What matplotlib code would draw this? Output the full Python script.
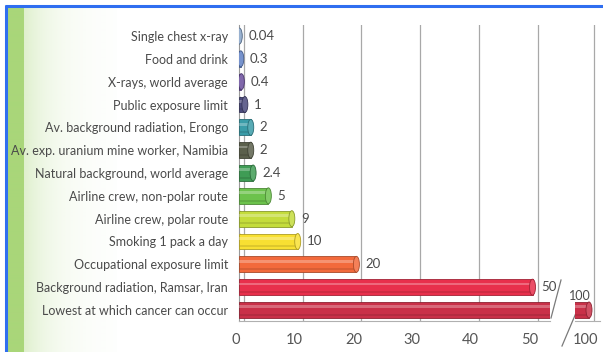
import numpy as np
import matplotlib.pyplot as plt
import matplotlib.transforms as mtransforms
from matplotlib.patches import Ellipse
from matplotlib.colors import to_rgb

plt.rcParams['font.family'] = ['Lato', 'DejaVu Sans']

# radiation doses (mSv per year)
labels = [
    "Single chest x-ray",
    "Food and drink",
    "X-rays, world average",
    "Public exposure limit",
    "Av. background radiation, Erongo",
    "Av. exp. uranium mine worker, Namibia",
    "Natural background, world average",
    "Airline crew, non-polar route",
    "Airline crew, polar route",
    "Smoking 1 pack a day",
    "Occupational exposure limit",
    "Background radiation, Ramsar, Iran",
    "Lowest at which cancer can occur",
]
values = [0.04, 0.3, 0.4, 1, 2, 2, 2.4, 5, 9, 10, 20, 50, 100]
value_text = ["0.04", "0.3", "0.4", "1", "2", "2", "2.4", "5", "9", "10", "20", "50", "100"]
bar_colors = ["#86a3c8", "#5f80c4", "#6a4d9c", "#4b4a7c", "#3a9ca8", "#5b604c",
              "#3f9c55", "#6cc24c", "#c4dc3c", "#f8e032", "#f26a3c", "#e8304c", "#c93048"]
main_ticks = [0, 10, 20, 30, 40, 50]
break_ticks = [100]

W, H = 603, 352
PPU = 5.87      # pixels per data unit on both value axes
TEXT = "#4a4a4a"


def px_rect(x0, y0, x1, y1):
    return [x0 / W, 1 - y1 / H, (x1 - x0) / W, (y1 - y0) / H]


def shade(c, f):
    r, g, b = to_rgb(c)
    if f < 1:
        return (r * f, g * f, b * f)
    return tuple(v + (1 - v) * (f - 1) for v in (r, g, b))


fig = plt.figure(figsize=(W / 100, H / 100), dpi=100)
fig.patch.set_facecolor("white")

# page decoration: green margin stripe and blue frame
bg = fig.add_axes([0, 0, 1, 1])
bg.set_axis_off()
bg.set_xlim(0, W)
bg.set_ylim(H, 0)
xs = np.arange(0, 110)
alpha = np.where(xs < 17, 0.8, 0.3 * np.exp(-(xs - 17) / 30.0))
stripe = np.zeros((2, len(xs), 4))
stripe[..., :3] = to_rgb("#94cc58")
stripe[..., 3] = alpha
bg.imshow(stripe, extent=(7, 117, H, 7), aspect="auto", interpolation="bilinear")
bg.plot([5, W], [6, 6], color="#2f6ef0", lw=2.2, solid_capstyle="butt")
bg.plot([6, 6], [5, H], color="#2f6ef0", lw=2.2, solid_capstyle="butt")
# axis break marks
bg.plot([551, 561], [318, 280], color="#7a7a7a", lw=0.9)
bg.plot([562, 576], [346, 313], color="#7a7a7a", lw=0.9)

ax = fig.add_axes(px_rect(239, 24.6, 550, 321.4))
ax2 = fig.add_axes(px_rect(575, 24.6, 600, 321.4))
ax.set_xlim(0, (550 - 239) / PPU)
ax2.set_xlim(100 - (589 - 575) / PPU, 100 + (600 - 589) / PPU)

y = np.arange(len(labels))
bar_h = 0.7
cap_w = 6.0 / PPU


def cylinder(a, yy, v, c):
    dark = shade(c, 0.7)
    a.add_patch(Ellipse((0, yy), cap_w, bar_h, facecolor=c, edgecolor=dark, lw=0.6, zorder=2))
    a.barh(yy, v, height=bar_h, color=c, edgecolor=dark, linewidth=0.6, zorder=3)
    a.barh(yy - bar_h * 0.2, v, height=bar_h * 0.18, color="white", alpha=0.28, lw=0, zorder=4)
    a.barh(yy + bar_h * 0.3, v, height=bar_h * 0.12, color=dark, alpha=0.35, lw=0, zorder=4)
    a.add_patch(Ellipse((v, yy), cap_w, bar_h, facecolor=shade(c, 1.15), edgecolor=dark,
                        lw=0.6, zorder=5))


for yy, v, c, t in zip(y, values, bar_colors, value_text):
    cylinder(ax, yy, v, c)
    cylinder(ax2, yy, v, c)
    if v <= ax.get_xlim()[1]:
        ax.annotate(t, (v, yy), xytext=(9, 0), textcoords="offset pixels",
                    ha="left", va="center", fontsize=9.5, color=TEXT)
    if v >= ax2.get_xlim()[0]:
        ax2.annotate(t, (v, yy), xytext=(-9, 14), textcoords="offset pixels",
                     ha="center", va="center", fontsize=9, color=TEXT, annotation_clip=False)

for a in (ax, ax2):
    a.set_ylim(len(labels) - 0.5, -0.5)
    a.set_facecolor("none")
    a.spines[["top", "right"]].set_visible(False)
    a.spines["bottom"].set_color("#b0b0b0")
    a.spines["left"].set_color("#999999")
    a.tick_params(axis="x", length=0, pad=8, labelsize=10.5, labelcolor="#555555")
    a.grid(axis="x", color="#a8a8a8", lw=0.9)
    a.set_axisbelow(True)

ax.set_xticks(main_ticks)
ax.set_yticks(y, labels)
ax.tick_params(axis="y", length=0, pad=8, labelsize=9.0, labelcolor=TEXT)
ax2.set_xticks(break_ticks)
ax2.set_yticks([])
ax2.spines["left"].set_visible(False)

# 3D look: grid sits a little behind the bars, labels a little in front
grid_shift = mtransforms.ScaledTranslation(5 / 100, 0, fig.dpi_scale_trans)
label_shift = mtransforms.ScaledTranslation(-3 / 100, 0, fig.dpi_scale_trans)
for a in (ax, ax2):
    for tick in a.xaxis.get_major_ticks():
        tick.gridline.set_transform(tick.gridline.get_transform() + grid_shift)
    for lab in a.get_xticklabels():
        lab.set_transform(lab.get_transform() + label_shift)

fig.savefig("out.png", dpi=100)
